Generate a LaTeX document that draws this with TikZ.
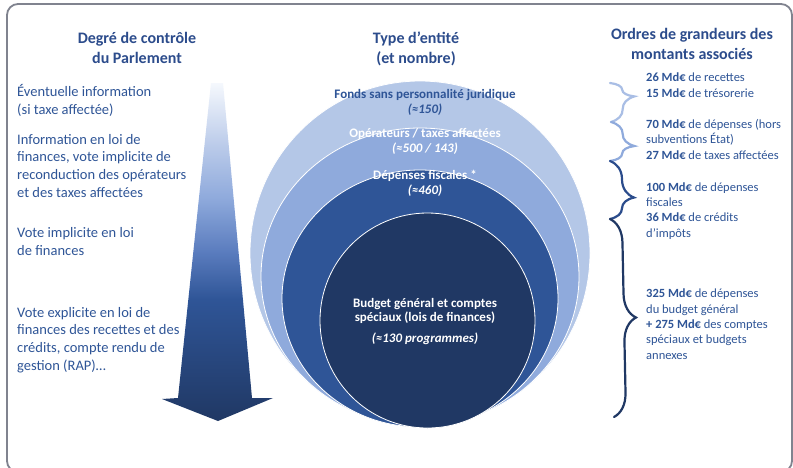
\documentclass[tikz,border=0pt]{standalone}
\usepackage{fontspec}
\setmainfont{Carlito}
\usetikzlibrary{decorations.pathreplacing}

\definecolor{ringA}{HTML}{B4C7E7}
\definecolor{ringB}{HTML}{8FAADC}
\definecolor{ringC}{HTML}{2F5597}
\definecolor{ringD}{HTML}{203864}
\definecolor{shadeM}{HTML}{5A7CBE}
\definecolor{shadeL}{HTML}{BCCCEA}
\definecolor{shadeT}{HTML}{F5F8FD}
\definecolor{txtblue}{HTML}{2F5597}
\definecolor{headblue}{HTML}{2C4C8C}
\definecolor{framegray}{HTML}{80838F}
\definecolor{braceA}{HTML}{A9BEE5}
\definecolor{braceB}{HTML}{8FAADC}
\definecolor{braceC}{HTML}{2B4C8C}
\definecolor{braceD}{HTML}{203864}

% light at the top, dark navy at the tip
\pgfdeclareverticalshading{controlshade}{100bp}{%
  color(0bp)=(ringD); color(25bp)=(ringD); color(43bp)=(ringC);
  color(50bp)=(shadeM); color(58bp)=(ringB); color(66bp)=(shadeL);
  color(75bp)=(shadeT); color(100bp)=(shadeT)}

% multi-line nodes: the base anchor sits on the baseline of the last line
\tikzset{
  headtext/.style={align=center, inner sep=0pt, anchor=base, text=headblue,
    font=\fontsize{16}{20}\selectfont\bfseries},
  bodytext/.style={align=left, inner sep=0pt, anchor=base west, text=txtblue,
    font=\fontsize{14.5}{17.6}\selectfont},
  amounttext/.style={align=left, inner sep=0pt, anchor=base west, text=txtblue,
    font=\fontsize{12.5}{15.3}\selectfont},
  ringtext/.style={align=center, inner sep=0pt, anchor=base,
    font=\fontsize{13}{14.7}\selectfont\bfseries},
  ring/.style={draw=white, line width=0.8pt},
  bracestyle/.style={decorate, decoration={brace, amplitude=24pt, aspect=#1},
    line width=2.2pt, line cap=round},
}

\begin{document}
\begin{tikzpicture}[x=1pt, y=-1pt]
  \useasboundingbox (0,0) rectangle (793,467);
  \fill[white] (0,0) rectangle (793,467);

  % outer frame, its lower edge just below the page
  \begin{scope}
    \clip (0,0) rectangle (793,467);
    \draw[framegray, line width=1.8pt, rounded corners=11pt] (7,4) rectangle (792,472);
  \end{scope}

  % column headings
  \node[headtext] (hcontrol) at (137,63) {Degré de contrôle\\du Parlement};
  \node[headtext] (hentity)  at (416,63) {Type d’entité\\(et nombre)};
  \node[headtext] (hamount)  at (692,59) {Ordres de grandeurs des\\montants associés};

  % degree of control arrow
  \shade[shading=controlshade]
    (211,83) -- (223,83) -- (252,398) -- (273,398) -- (218,421)
    -- (162,399) -- (178,398) -- cycle;

  % left column texts
  \node[bodytext] (ctlA) at (17,114) {Éventuelle information\\(si taxe affectée)};
  \node[bodytext] (ctlB) at (17,197) {Information en loi de\\finances, vote implicite de\\reconduction des opérateurs\\et des taxes affectées};
  \node[bodytext] (ctlC) at (17,255) {Vote implicite en loi\\de finances};
  \node[bodytext] (ctlD) at (17,370) {Vote explicite en loi de\\finances des recettes et des\\crédits, compte rendu de\\gestion (RAP)…};

  % nested entity circles
  \fill[ringA, ring] (420,253)   ellipse [x radius=170pt, y radius=172pt];
  \fill[ringB, ring] (420,276.5) ellipse [x radius=159pt, y radius=148.5pt];
  \fill[ringC, ring] (420,298.5) ellipse [x radius=138pt, y radius=128.5pt];
  \fill[ringD, ring] (427.5,320.5) ellipse [x radius=107.5pt, y radius=107.5pt];

  \node[ringtext, text=txtblue] (funds) at (425,113)
    {Fonds sans personnalité juridique\\{\itshape(≈150)}};
  \node[ringtext, text=white] (operators) at (425,152)
    {Opérateurs / taxes affectées\\{\itshape(≈500 / 143)}};
  \node[ringtext, text=white] (taxexp) at (425,194)
    {Dépenses fiscales *\\{\itshape(≈460)}};
  \node[ringtext, text=white] (budget) at (425,342)
    {Budget général et comptes\\spéciaux (lois de finances)\\[5.5pt]{\itshape(≈130 programmes)}};

  % braces grouping the amounts
  \coordinate (bA) at (610,83);
  \coordinate (bB) at (611,122);
  \coordinate (bC) at (610,161);
  \coordinate (bD) at (610,219);
  \coordinate (bE) at (614,417);
  \draw[bracestyle=0.36, braceA] (bA) -- (bB);
  \draw[bracestyle=0.6,  braceB] (bB) -- (bC);
  \draw[bracestyle=0.63, braceC] (bC) -- (bD);
  \draw[bracestyle=0.5,  braceD] (bD) -- (bE);

  % right column amounts
  \node[amounttext] (amtA) at (646,97)
    {\textbf{26 Md€} de recettes\\\textbf{15 Md€} de trésorerie};
  \node[amounttext] (amtB) at (646,159)
    {\textbf{70 Md€} de dépenses (hors\\subventions État)\\\textbf{27 Md€} de taxes affectées};
  \node[amounttext] (amtC) at (646,237)
    {\textbf{100 Md€} de dépenses\\fiscales\\\textbf{36 Md€} de crédits\\d’impôts};
  \node[amounttext] (amtD) at (646,359)
    {\textbf{325 Md€} de dépenses\\du budget général\\\textbf{+ 275 Md€} des comptes\\spéciaux et budgets\\annexes};
\end{tikzpicture}
\end{document}
